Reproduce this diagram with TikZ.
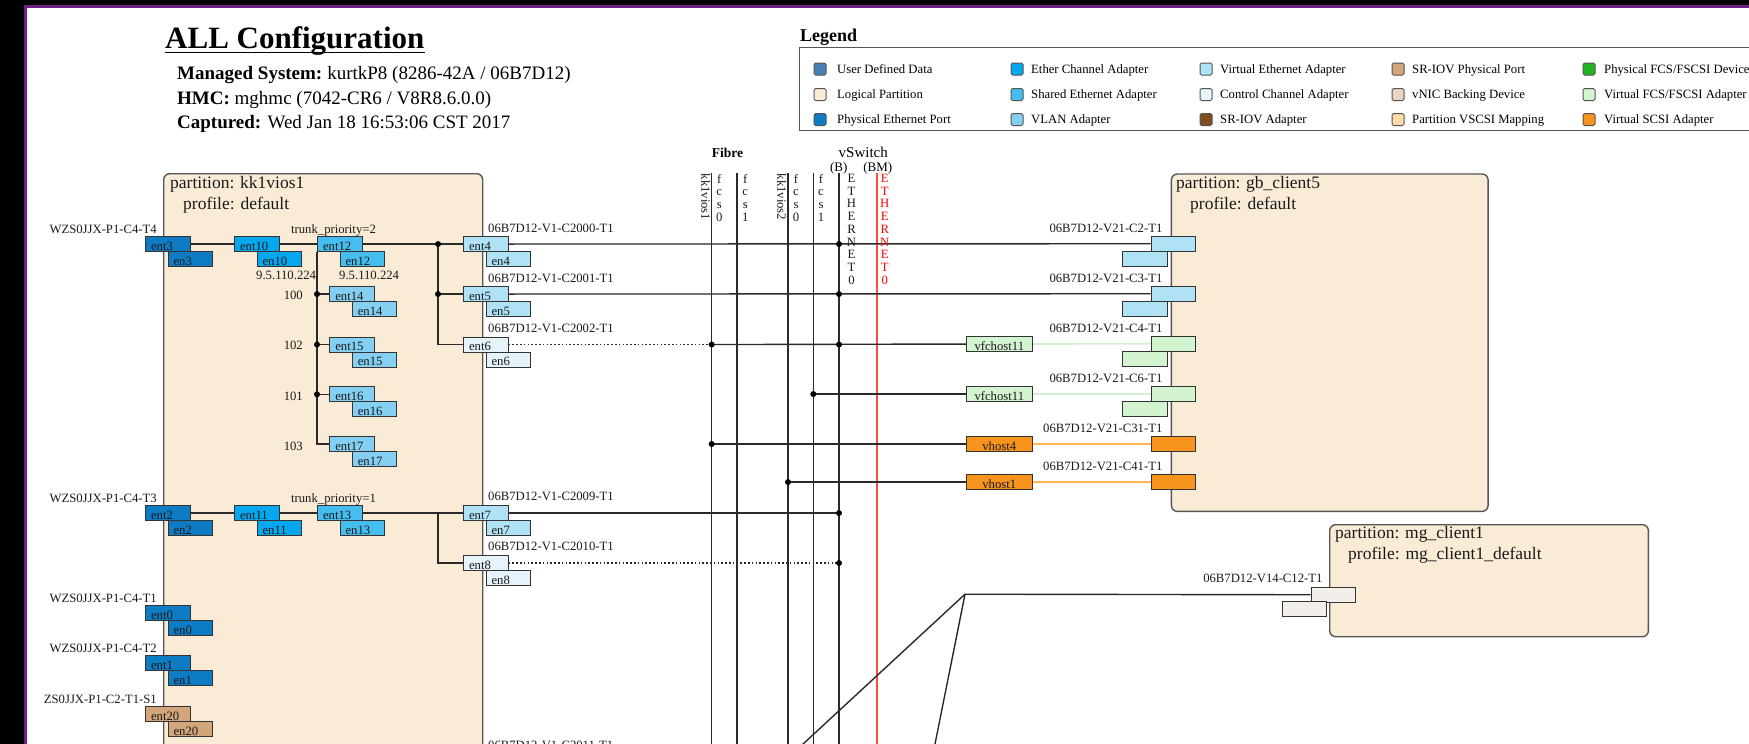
\documentclass[tikz,border=0pt]{standalone}
\usepackage{fontspec}
\setmainfont{Liberation Serif}
\usetikzlibrary{calc}
\pgfdeclarelayer{back}
\pgfdeclarelayer{mid}
\pgfsetlayers{back,mid,main}

% palette
\definecolor{framec}{HTML}{702082}
\definecolor{partbg}{HTML}{FAEBD7}
\definecolor{partedge}{HTML}{555555}
\definecolor{adpedge}{HTML}{333333}
\definecolor{wirec}{HTML}{2A2A2A}
\definecolor{txtc}{HTML}{1A1A1A}
\definecolor{userdef}{HTML}{4A7EB6}
\definecolor{physeth}{HTML}{0E7CC4}
\definecolor{etherch}{HTML}{05A7EE}
\definecolor{sea}{HTML}{45BDEE}
\definecolor{vlan}{HTML}{84CFF2}
\definecolor{veth}{HTML}{B0E2F6}
\definecolor{ctrl}{HTML}{E7F3FB}
\definecolor{sriovport}{HTML}{D2A57A}
\definecolor{sriov}{HTML}{7E4E1F}
\definecolor{vnic}{HTML}{E8D6C3}
\definecolor{vnicport}{HTML}{F2EEE9}
\definecolor{vscsimap}{HTML}{FFDBA8}
\definecolor{physfc}{HTML}{22B422}
\definecolor{vfc}{HTML}{D4F3D0}
\definecolor{vscsi}{HTML}{F7941E}
\definecolor{vfcline}{HTML}{D2EFD2}
\definecolor{scsiline}{HTML}{FFB44F}
\definecolor{redsw}{HTML}{FF4A4A}

\newcommand{\lblfont}{\fontsize{12.7}{12.7}\selectfont}
\newcommand{\partfont}{\fontsize{17.5}{20}\selectfont}
\newcommand{\hdrfont}{\fontsize{19}{22}\selectfont}
\newcommand{\ttlfont}{\fontsize{31}{34}\selectfont\bfseries}
\newcommand{\lgdfont}{\fontsize{18}{20}\selectfont\bfseries}

\begin{document}
\begin{tikzpicture}[x=1pt,y=-1pt,
  wire/.style={draw=wirec, line width=1.4},
  dotwire/.style={wire, dash pattern=on 1.6pt off 2.2pt},
  fibre/.style={draw=wirec, line width=1.5},
  vfcwire/.style={draw=vfcline, line width=1.6},
  scsiwire/.style={draw=scsiline, line width=1.5},
  part/.style={draw=partedge, line width=1.4, fill=partbg, rounded corners=6, inner sep=0, anchor=north west},
  adp/.style={draw=adpedge, line width=1.1, inner sep=0, minimum width=44.5, minimum height=15,
    text width=33.5, align=left, text height=12.5, text depth=0, font=\lblfont, text=txtc, anchor=north west},
  host/.style={draw=adpedge, line width=1.1, inner sep=0, minimum width=65.5, minimum height=15,
    text height=12.5, text depth=0, font=\lblfont, text=txtc, align=center, anchor=north west},
  lbl/.style={font=\lblfont, inner sep=0, text=txtc},
  ptxt/.style={font=\partfont, inner sep=0, text=txtc, anchor=base west},
  hdr/.style={font=\hdrfont, inner sep=0, text=black, anchor=base west},
  stack/.style={font=\lblfont, inner sep=0, align=center, anchor=north, text=txtc},
  key/.style={draw=partedge, line width=1, rounded corners=1.5, minimum size=12, inner sep=0},
  keytxt/.style={font=\lblfont, inner sep=0, anchor=base west, text=black},
  jdot/.style={fill=black}
]
\useasboundingbox (0,0) rectangle (1749,744);
\clip (0,0) rectangle (1749,744);

% ---------- window frame and partitions ----------
\begin{pgfonlayer}{back}
  \fill[black] (0,0) rectangle (1749,744);
  \fill[framec] (23.5,5) rectangle (1749,744);
  \fill[white] (26.5,7.5) rectangle (1749,744);
  \node[part, minimum width=319, minimum height=640] (p1) at (163,173) {};
  \node[part, minimum width=316.7, minimum height=337.4] (p2) at (1170.7,173.3) {};
  \node[part, minimum width=318.7, minimum height=112] (p3) at (1329,524) {};
\end{pgfonlayer}

% ---------- heading ----------
\node[anchor=base west, inner sep=0, font=\ttlfont] (title) at (165,48) {ALL Configuration};
\draw[line width=1.8] ($(title.base west)+(0,4.5)$) -- ($(title.base east)+(0,4.5)$);
\node[hdr] (ms) at (177,79.5) {\textbf{Managed System:}\hspace{5pt}kurtkP8 (8286-42A / 06B7D12)};
\node[hdr] (hmc) at (177,104) {\textbf{HMC:} mghmc (7042-CR6 / V8R8.6.0.0)};
\node[hdr] (cap) at (177,128.5) {\textbf{Captured:} Wed Jan 18 16:53:06 CST 2017};

% ---------- legend ----------
\node[anchor=base west, inner sep=0, font=\lgdfont] (lgd) at (800,41) {Legend};
\node[draw=partedge, line width=1.4, minimum width=963, minimum height=83, inner sep=0, anchor=north west] (lgdbox) at (799,47) {};
% row 1
\node[key, fill=userdef] (k1) at (820,69) {};
\node[keytxt] (t1) at (837,73.3) {User Defined Data};
\node[key, fill=etherch] (k2) at (1017,69) {};
\node[keytxt] (t2) at (1031,73.3) {Ether Channel Adapter};
\node[key, fill=veth] (k3) at (1206,69) {};
\node[keytxt] (t3) at (1220,73.3) {Virtual Ethernet Adapter};
\node[key, fill=sriovport] (k4) at (1398,69) {};
\node[keytxt] (t4) at (1412,73.3) {SR-IOV Physical Port};
\node[key, fill=physfc] (k5) at (1589,69) {};
\node[keytxt] (t5) at (1604,73.3) {Physical FCS/FSCSI Device};
% row 2
\node[key, fill=partbg] (k6) at (820,94.5) {};
\node[keytxt] (t6) at (837,98.8) {Logical Partition};
\node[key, fill=sea] (k7) at (1017,94.5) {};
\node[keytxt] (t7) at (1031,98.8) {Shared Ethernet Adapter};
\node[key, fill=ctrl] (k8) at (1206,94.5) {};
\node[keytxt] (t8) at (1220,98.8) {Control Channel Adapter};
\node[key, fill=vnic] (k9) at (1398,94.5) {};
\node[keytxt] (t9) at (1412,98.8) {vNIC Backing Device};
\node[key, fill=vfc] (k10) at (1589,94.5) {};
\node[keytxt] (t10) at (1604,98.8) {Virtual FCS/FSCSI Adapter};
% row 3
\node[key, fill=physeth] (k11) at (820,119.5) {};
\node[keytxt] (t11) at (837,123.8) {Physical Ethernet Port};
\node[key, fill=vlan] (k12) at (1017,119.5) {};
\node[keytxt] (t12) at (1031,123.8) {VLAN Adapter};
\node[key, fill=sriov] (k13) at (1206,119.5) {};
\node[keytxt] (t13) at (1220,123.8) {SR-IOV Adapter};
\node[key, fill=vscsimap] (k14) at (1398,119.5) {};
\node[keytxt] (t14) at (1412,123.8) {Partition VSCSI Mapping};
\node[key, fill=vscsi] (k15) at (1589,119.5) {};
\node[keytxt] (t15) at (1604,123.8) {Virtual SCSI Adapter};

% ---------- partition captions ----------
\node[ptxt] (p1name) at (170,188) {partition: kk1vios1};
\node[ptxt] (p1prof) at (183,209) {profile: default};
\node[ptxt] (p2name) at (1176,188) {partition: gb\_client5};
\node[ptxt] (p2prof) at (1190,209) {profile: default};
\node[ptxt] (p3name) at (1335,538) {partition: mg\_client1};
\node[ptxt] (p3prof) at (1348,559) {profile: mg\_client1\_default};

% ---------- kk1vios1 adapters ----------
\node[adp, fill=physeth] (ent3) at (145,236) {ent3};
\node[adp, fill=physeth] (en3) at (167.5,251) {en3};
\node[adp, fill=etherch] (ent10) at (234,236) {ent10};
\node[adp, fill=etherch] (en10) at (256.5,251) {en10};
\node[adp, fill=sea] (ent12) at (317,236) {ent12};
\node[adp, fill=sea] (en12) at (339.5,251) {en12};
\node[adp, fill=veth] (ent4) at (463,236) {ent4};
\node[adp, fill=veth] (en4) at (485.5,251) {en4};
\node[adp, fill=vlan] (ent14) at (329.3,286) {ent14};
\node[adp, fill=vlan] (en14) at (351.8,301) {en14};
\node[adp, fill=veth] (ent5) at (463,286) {ent5};
\node[adp, fill=veth] (en5) at (485.5,301) {en5};
\node[adp, fill=vlan] (ent15) at (329.3,336.5) {ent15};
\node[adp, fill=vlan] (en15) at (351.8,351.5) {en15};
\node[adp, fill=ctrl] (ent6) at (463,336.5) {ent6};
\node[adp, fill=ctrl] (en6) at (485.5,351.5) {en6};
\node[adp, fill=vlan] (ent16) at (329.3,386.3) {ent16};
\node[adp, fill=vlan] (en16) at (351.8,401.3) {en16};
\node[adp, fill=vlan] (ent17) at (329.3,436) {ent17};
\node[adp, fill=vlan] (en17) at (351.8,451) {en17};

\node[adp, fill=physeth] (ent2) at (145,505) {ent2};
\node[adp, fill=physeth] (en2) at (167.5,520) {en2};
\node[adp, fill=etherch] (ent11) at (234,505) {ent11};
\node[adp, fill=etherch] (en11) at (256.5,520) {en11};
\node[adp, fill=sea] (ent13) at (317,505) {ent13};
\node[adp, fill=sea] (en13) at (339.5,520) {en13};
\node[adp, fill=veth] (ent7) at (463,505) {ent7};
\node[adp, fill=veth] (en7) at (485.5,520) {en7};
\node[adp, fill=ctrl] (ent8) at (463,555) {ent8};
\node[adp, fill=ctrl] (en8) at (485.5,570) {en8};

\node[adp, fill=physeth] (ent0) at (145,605) {ent0};
\node[adp, fill=physeth] (en0) at (167.5,620) {en0};
\node[adp, fill=physeth] (ent1) at (145,655) {ent1};
\node[adp, fill=physeth] (en1) at (167.5,670) {en1};
\node[adp, fill=sriovport] (ent20) at (145,706) {ent20};
\node[adp, fill=sriovport] (en20) at (167.5,721) {en20};

% ---------- kk1vios1 labels ----------
\node[lbl, anchor=base east] (loc4) at (157,233) {WZS0JJX-P1-C4-T4};
\node[lbl, anchor=base east] (loc3) at (157,502) {WZS0JJX-P1-C4-T3};
\node[lbl, anchor=base east] (loc1) at (157,602) {WZS0JJX-P1-C4-T1};
\node[lbl, anchor=base east] (loc2) at (157,652.5) {WZS0JJX-P1-C4-T2};
\node[lbl, anchor=base east] (locs) at (157,703) {ZS0JJX-P1-C2-T1-S1};
\node[lbl, anchor=base] (tp2) at (333.5,233) {trunk\_priority=2};
\node[lbl, anchor=base] (tp1) at (333.5,502) {trunk\_priority=1};
\node[lbl, anchor=base west] (ip1) at (256,279.5) {9.5.110.224};
\node[lbl, anchor=base west] (ip2) at (339,279.5) {9.5.110.224};
\node[lbl, anchor=base east] (vl100) at (303,299.3) {100};
\node[lbl, anchor=base east] (vl102) at (303,349.3) {102};
\node[lbl, anchor=base east] (vl101) at (303,400) {101};
\node[lbl, anchor=base east] (vl103) at (303,450) {103};
\node[lbl, anchor=base west] (c2000) at (488,232) {06B7D12-V1-C2000-T1};
\node[lbl, anchor=base west] (c2001) at (488,282) {06B7D12-V1-C2001-T1};
\node[lbl, anchor=base west] (c2002) at (488,332.5) {06B7D12-V1-C2002-T1};
\node[lbl, anchor=base west] (c2009) at (488,500.5) {06B7D12-V1-C2009-T1};
\node[lbl, anchor=base west] (c2010) at (488,550.5) {06B7D12-V1-C2010-T1};
\node[lbl, anchor=base west] (c2011) at (488,749) {06B7D12-V1-C2011-T1};

% ---------- gb_client5 adapters ----------
\node[adp, fill=veth] (g1) at (1150.7,235.7) {};
\node[adp, fill=veth] (g1b) at (1122,250.7) {};
\node[adp, fill=veth] (g2) at (1150.7,285.7) {};
\node[adp, fill=veth] (g2b) at (1122,300.7) {};
\node[adp, fill=vfc] (g3) at (1150.7,335.7) {};
\node[adp, fill=vfc] (g3b) at (1122,350.7) {};
\node[adp, fill=vfc] (g4) at (1150.7,386) {};
\node[adp, fill=vfc] (g4b) at (1122,401) {};
\node[adp, fill=vscsi] (g5) at (1150.7,436) {};
\node[adp, fill=vscsi] (g6) at (1150.7,474) {};
\node[lbl, anchor=base east] (gc2) at (1162.6,232.6) {06B7D12-V21-C2-T1};
\node[lbl, anchor=base east] (gc3) at (1162.6,282.6) {06B7D12-V21-C3-T1};
\node[lbl, anchor=base east] (gc4) at (1162.6,332.6) {06B7D12-V21-C4-T1};
\node[lbl, anchor=base east] (gc6) at (1162.6,382.6) {06B7D12-V21-C6-T1};
\node[lbl, anchor=base east] (gc31) at (1162.6,432.6) {06B7D12-V21-C31-T1};
\node[lbl, anchor=base east] (gc41) at (1162.6,470.3) {06B7D12-V21-C41-T1};

% server-side virtual hosts
\node[host, fill=vfc] (vf1) at (966,336) {vfchost11};
\node[host, fill=vfc] (vf2) at (966,386) {vfchost11};
\node[host, fill=vscsi] (vh4) at (966,436) {vhost4};
\node[host, fill=vscsi] (vh1) at (966,474) {vhost1};

% ---------- mg_client1 adapters ----------
\node[adp, fill=vnicport] (m1) at (1310.7,586.7) {};
\node[adp, fill=vnicport] (m1b) at (1281.7,601.2) {};
\node[lbl, anchor=base east] (mc12) at (1322.7,582.5) {06B7D12-V14-C12-T1};

% ---------- fibre and vswitch columns ----------
\coordinate (fa) at (711.7,173.3);  \coordinate (fab) at (711.7,760);
\coordinate (fb) at (737,173.3);    \coordinate (fbb) at (737,760);
\coordinate (fc) at (788,173.3);    \coordinate (fcb) at (788,760);
\coordinate (fd) at (813.3,173.3);  \coordinate (fdb) at (813.3,760);
\coordinate (sw) at (839,173.3);    \coordinate (swb) at (839,760);
\coordinate (swr) at (877,173.3);   \coordinate (swrb) at (877,760);
\coordinate (busA) at (438,0);
\coordinate (mgx) at (965,594.2);
\coordinate (d1) at (742.5,800);
\coordinate (d2) at (923.8,800);

\node[font=\fontsize{13.5}{14}\selectfont\bfseries, inner sep=0, anchor=base] (fibrehd) at (727.5,157) {Fibre};
\node[font=\fontsize{15}{16}\selectfont, inner sep=0, anchor=base] (vswhd) at (863.3,157) {vSwitch};
\node[font=\fontsize{13}{14}\selectfont, inner sep=0, anchor=base] (swB) at (838.7,171) {(B)};
\node[font=\fontsize{13}{14}\selectfont, inner sep=0, anchor=base] (swBM) at (877.7,171) {(BM)};
\node[lbl, rotate=-90, anchor=north west] (vios1) at (710.3,173.5) {kk1vios1};
\node[lbl, rotate=-90, anchor=north west] (vios2) at (786.3,173.5) {kk1vios2};
\node[stack] (fcs0a) at (719.3,174) {f\\c\\s\\0};
\node[stack] (fcs1a) at (745.3,174) {f\\c\\s\\1};
\node[stack] (fcs0b) at (796,174) {f\\c\\s\\0};
\node[stack] (fcs1b) at (821,174) {f\\c\\s\\1};
\node[stack] (ethb) at (851.5,174) {E\\T\\H\\E\\R\\N\\E\\T\\0};
\node[stack, text=red] (ethbm) at (884.8,174) {E\\T\\H\\E\\R\\N\\E\\T\\0};

% ---------- connectors ----------
\begin{pgfonlayer}{mid}
  \draw[fibre] (fa) -- (fab);
  \draw[fibre] (fb) -- (fbb);
  \draw[fibre] (fc) -- (fcb);
  \draw[fibre] (fd) -- (fdb);
  \draw[fibre] (sw) -- (swb);
  \draw[draw=redsw, line width=1.5] (swr) -- (swrb);

  % ether channel / SEA chain, first trunk
  \draw[wire] (ent3.east) -- (ent10.west);
  \draw[wire] (ent10.east) -- (ent12.west);
  \draw[wire] (ent12.east) -- (ent4.west);
  \draw[wire] (ent4.west -| busA) |- (ent6.west);
  \draw[wire] (ent5.west -| busA) -- (ent5.west);
  % VLAN bus
  \draw[wire] (ent12.south west) |- (ent17.west);
  \draw[wire] (ent14.west -| ent12.west) -- (ent14.west);
  \draw[wire] (ent15.west -| ent12.west) -- (ent15.west);
  \draw[wire] (ent16.west -| ent12.west) -- (ent16.west);
  % second trunk
  \draw[wire] (ent2.east) -- (ent11.west);
  \draw[wire] (ent11.east) -- (ent13.west);
  \draw[wire] (ent13.east) -- (ent7.west);
  \draw[wire] (ent7.west -| busA) |- (ent8.west);

  % to the client partitions
  \draw[wire] (ent4.east) -- (g1.west);
  \draw[wire] (ent5.east) -- (g2.west);
  \draw[dotwire] (ent6.east) -- (ent6.east -| fa);
  \draw[wire] (ent6.east -| fa) -- (vf1.west);
  \draw[wire] (vf2.west -| fd) -- (vf2.west);
  \draw[wire] (vh4.west -| fa) -- (vh4.west);
  \draw[wire] (vh1.west -| fc) -- (vh1.west);
  \draw[wire] (ent7.east) -- (ent7.east -| sw);
  \draw[dotwire] (ent8.east) -- (ent8.east -| sw);
  \draw[vfcwire] (vf1.east) -- (g3.west);
  \draw[vfcwire] (vf2.east) -- (g4.west);
  \draw[scsiwire] (vh4.east) -- (g5.west);
  \draw[scsiwire] (vh1.east) -- (g6.west);
  \draw[wire] (m1.west) -- (mgx) -- (d1);
  \draw[wire] (mgx) -- (d2);
\end{pgfonlayer}

% junction dots
\fill[jdot] (ent4.west -| busA) circle (3);
\fill[jdot] (ent5.west -| busA) circle (3);
\fill[jdot] (ent14.west -| ent12.west) circle (3);
\fill[jdot] (ent15.west -| ent12.west) circle (3);
\fill[jdot] (ent16.west -| ent12.west) circle (3);
\fill[jdot] (ent4.east -| sw) circle (3);
\fill[jdot] (ent5.east -| sw) circle (3);
\fill[jdot] (ent6.east -| fa) circle (3);
\fill[jdot] (ent6.east -| sw) circle (3);
\fill[jdot] (vf2.west -| fd) circle (3);
\fill[jdot] (vh4.west -| fa) circle (3);
\fill[jdot] (vh1.west -| fc) circle (3);
\fill[jdot] (ent7.east -| sw) circle (3);
\fill[jdot] (ent8.east -| sw) circle (3);
\end{tikzpicture}
\end{document}
